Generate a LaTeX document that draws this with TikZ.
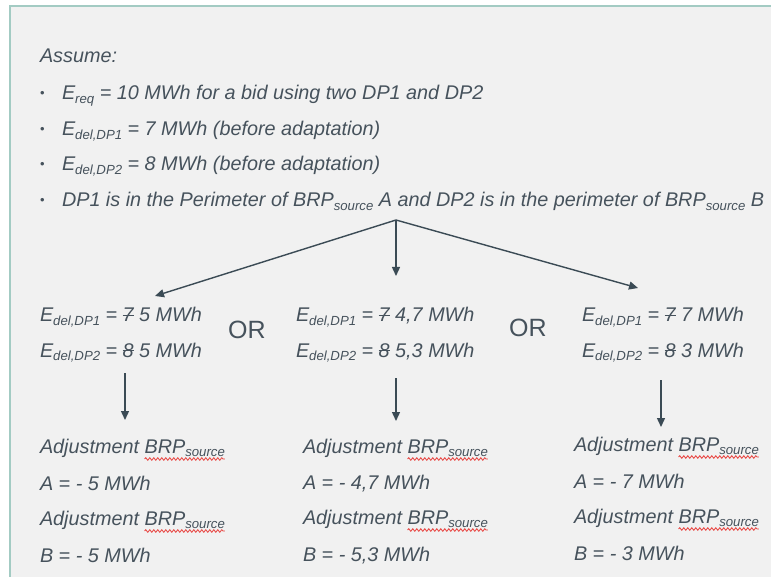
\documentclass[tikz,border=0pt]{standalone}
\usepackage{fontspec}
\setmainfont{Liberation Sans}
\usetikzlibrary{arrows.meta,decorations.pathmorphing}

\definecolor{txt}{HTML}{46525C}
\definecolor{arr}{HTML}{3B4B55}
\definecolor{framec}{HTML}{A3CBC3}
\definecolor{bgc}{HTML}{F1F1F1}
\definecolor{wavered}{HTML}{E8403C}

\newcommand{\sbs}[1]{\raisebox{-0.18em}{\fontsize{13.2}{13}\selectfont #1}}
\newcommand{\strk}[1]{{\setbox0=\hbox{#1}\rlap{\rule[0.42\ht0]{\wd0}{0.07em}}\box0}}

\begin{document}
\begin{tikzpicture}[x=1pt,y=-1pt,
  tx/.style={anchor=base west, inner sep=0, outer sep=0, text=txt, font=\fontsize{19.8}{23}\selectfont\itshape},
  orx/.style={anchor=base west, inner sep=0, text=txt, font=\fontsize{25}{28}\selectfont},
  bul/.style={anchor=base west, inner sep=0, text=txt, font=\fontsize{13}{16}\selectfont},
  conn/.style={draw=arr, line width=1.4pt, -{Triangle[length=9pt,width=8pt]}},
  wave/.style={draw=wavered, line width=0.8pt, decorate, decoration={snake, amplitude=1.3pt, segment length=4pt}}
]
\useasboundingbox (0,0) rectangle (771,577);
\fill[white] (0,0) rectangle (771,577);
\fill[bgc] (10,6) rectangle (771,577);
\draw[framec, line width=2pt] (10,577) -- (10,6) -- (771,6);

% header
\node[tx] (assume) at (40,63) {Assume:};
\node[bul] (b1) at (40,98) {•};
\node[bul] (b2) at (40,134) {•};
\node[bul] (b3) at (40,169) {•};
\node[bul] (b4) at (40,205) {•};
\node[tx] (l1) at (62,100) {E\sbs{req} = 10 MWh for a bid using two DP1 and DP2};
\node[tx] (l2) at (62,136) {E\sbs{del,DP1} = 7 MWh (before adaptation)};
\node[tx] (l3) at (62,171) {E\sbs{del,DP2} = 8 MWh (before adaptation)};
\node[tx] (l4) at (62,207) {DP1 is in the Perimeter of BRP\sbs{source} A and DP2 is in the perimeter of BRP\sbs{source} B};

% split arrows
\coordinate (split) at (396,220);
\coordinate (tipL) at (155,296);
\coordinate (tipM) at (396,276);
\coordinate (tipR) at (638,288);
\draw[conn] (split) -- (tipL);
\draw[conn] (split) -- (tipM);
\draw[conn] (split) -- (tipR);

% middle row
\node[tx] (aL1) at (40,322) {E\sbs{del,DP1} = \strk{7} 5 MWh};
\node[tx] (aL2) at (40,357) {E\sbs{del,DP2} = \strk{8} 5 MWh};
\node[tx] (aM1) at (296,322) {E\sbs{del,DP1} = \strk{7} 4,7 MWh};
\node[tx] (aM2) at (296,357) {E\sbs{del,DP2} = \strk{8} 5,3 MWh};
\node[tx] (aR1) at (582,322) {E\sbs{del,DP1} = \strk{7} 7 MWh};
\node[tx] (aR2) at (582,357) {E\sbs{del,DP2} = \strk{8} 3 MWh};
\node[orx] (or1) at (228,338) {OR};
\node[orx] (or2) at (509,337) {OR};

% vertical arrows
\coordinate (vL0) at (125,373); \coordinate (vL1) at (125,420);
\coordinate (vM0) at (396,378); \coordinate (vM1) at (396,421);
\coordinate (vR0) at (661,380); \coordinate (vR1) at (661,427);
\draw[conn] (vL0) -- (vL1);
\draw[conn] (vM0) -- (vM1);
\draw[conn] (vR0) -- (vR1);

% bottom left
\node[tx] (jL1) at (40,453) {Adjustment};
\node[tx] (kL1) at ([xshift=5.5pt]jL1.base east) {BRP\sbs{source}};
\node[tx] (cL1) at (40,490) {A = - 5 MWh};
\node[tx] (jL2) at (40,525) {Adjustment};
\node[tx] (kL2) at ([xshift=5.5pt]jL2.base east) {BRP\sbs{source}};
\node[tx] (cL2) at (40,562) {B = - 5 MWh};
% bottom middle
\node[tx] (jM1) at (303,453) {Adjustment};
\node[tx] (kM1) at ([xshift=5.5pt]jM1.base east) {BRP\sbs{source}};
\node[tx] (cM1) at (303,489) {A = - 4,7 MWh};
\node[tx] (jM2) at (303,524) {Adjustment};
\node[tx] (kM2) at ([xshift=5.5pt]jM2.base east) {BRP\sbs{source}};
\node[tx] (cM2) at (303,561) {B = - 5,3 MWh};
% bottom right
\node[tx] (jR1) at (574,451) {Adjustment};
\node[tx] (kR1) at ([xshift=5.5pt]jR1.base east) {BRP\sbs{source}};
\node[tx] (cR1) at (574,488) {A = - 7 MWh};
\node[tx] (jR2) at (574,523) {Adjustment};
\node[tx] (kR2) at ([xshift=5.5pt]jR2.base east) {BRP\sbs{source}};
\node[tx] (cR2) at (574,560) {B = - 3 MWh};

% spell-check underlines
\foreach \k in {kL1,kL2,kM1,kM2,kR1,kR2}{
  \draw[wave] ([yshift=-6pt]\k.base west) -- ([yshift=-6pt]\k.base east);
}
\end{tikzpicture}
\end{document}
